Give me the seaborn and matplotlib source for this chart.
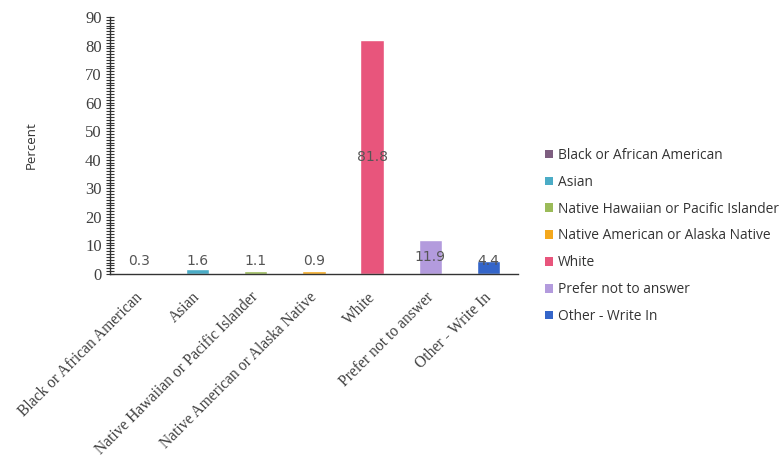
import matplotlib
matplotlib.use("Agg")
import matplotlib.pyplot as plt
import matplotlib.transforms as mtransforms
import seaborn as sns
import pandas as pd
from matplotlib.ticker import MultipleLocator
from matplotlib.patches import Patch

categories = ["Black or African American", "Asian", "Native Hawaiian or Pacific Islander",
              "Native American or Alaska Native", "White", "Prefer not to answer", "Other - Write In"]
values = [0.3, 1.6, 1.1, 0.9, 81.8, 11.9, 4.4]
labels = ["0.3", "1.6", "1.1", "0.9", "81.8", "11.9", "4.4"]
colors = ["#7E5E80", "#4BACC6", "#9BBB59", "#F4A81D", "#E8557C", "#B39BDD", "#3465C9"]

sns.set_style("white")
df = pd.DataFrame({"cat": categories, "val": values})

fig = plt.figure(figsize=(7.82, 4.58), dpi=100)
ax = fig.add_axes([0.1407, 0.4017, 0.5213, 0.5613])
sns.barplot(data=df, x="cat", y="val", hue="cat", palette=colors, dodge=False,
            width=0.4, legend=False, ax=ax, saturation=1)

ax.set_ylim(0, 90)
ax.set_xlim(-0.5, 6.5)
ax.yaxis.set_major_locator(MultipleLocator(10))
ax.yaxis.set_minor_locator(MultipleLocator(1))
ax.tick_params(axis="y", which="both", direction="inout", left=True, length=6, width=0.8,
               color="#333333", labelsize=12, labelcolor="#404040", pad=3,
               labelfontfamily="Liberation Serif")
ax.tick_params(axis="x", which="both", bottom=False, length=0)
for s in ["top", "right"]:
    ax.spines[s].set_visible(False)
for s in ["left", "bottom"]:
    ax.spines[s].set_color("#333333")
    ax.spines[s].set_linewidth(1.0)

ax.set_xticks(range(len(categories)))
ax.set_xticklabels(categories, rotation=45, ha="right", rotation_mode="anchor",
                   family="Liberation Serif", fontsize=11.2, color="#404040")
ax.tick_params(axis="x", pad=11)
offset = mtransforms.ScaledTranslation(-5 / 100, 0, fig.dpi_scale_trans)
for lab in ax.get_xticklabels():
    lab.set_transform(lab.get_transform() + offset)
ax.set_xlabel("")
ax.set_ylabel("Percent", family="Open Sans", fontsize=9.5, color="#333333", labelpad=34)

for i, (v, t) in enumerate(zip(values, labels)):
    ax.text(i, max(v / 2, 4.6), t, ha="center", va="center", fontsize=10,
            color="#555555", family="DejaVu Sans")

handles = [Patch(facecolor=c, edgecolor="none") for c in colors]
fig.legend(handles, categories, loc="upper left", bbox_to_anchor=(0.684, 0.698),
           frameon=False, prop={"family": "Open Sans", "size": 9.9},
           labelcolor="#333333", handlelength=0.6, handleheight=0.6,
           handletextpad=0.35, labelspacing=0.86, borderpad=0.2)

fig.savefig("out.png", dpi=100)
